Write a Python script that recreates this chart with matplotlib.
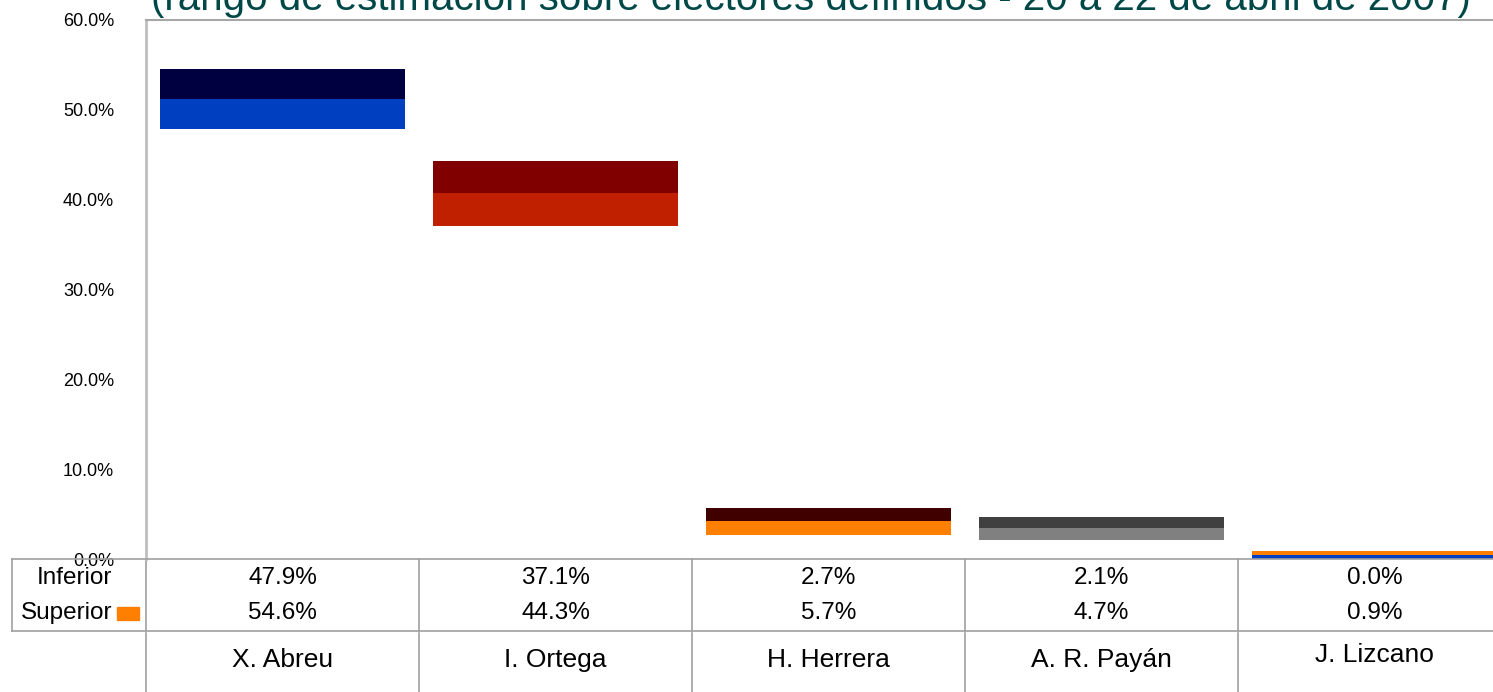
import matplotlib.pyplot as plt
from matplotlib.patches import Rectangle
from matplotlib.transforms import blended_transform_factory

plt.rcParams['font.family'] = ['Liberation Sans', 'DejaVu Sans']

# data
candidatos = ['X. Abreu', 'I. Ortega', 'H. Herrera', 'A. R. Payán', 'J. Lizcano']
inferior = [47.9, 37.1, 2.7, 2.1, 0.0]
superior = [54.6, 44.3, 5.7, 4.7, 0.9]
col_bajo = ['#0040C0', '#C02000', '#FF8000', '#808080', '#0040C0']
col_alto = ['#000040', '#800000', '#400000', '#404040', '#FF8000']
titulo = '(rango de estimación sobre electores definidos - 20 a 22 de abril de 2007)'

W, H = 1493, 692
fig = plt.figure(figsize=(W / 100, H / 100), dpi=100)

def fx(px):
    return px / W

def fy(py):
    return 1 - py / H

# axes run past the right edge, like the cropped original
x0, x1, ytop, ybot = 146, 1511, 20, 559
ax = fig.add_axes([fx(x0), fy(ybot), fx(x1 - x0), (ybot - ytop) / H])

pos = list(range(1, len(candidatos) + 1))
for i, p in enumerate(pos):
    mid = (inferior[i] + superior[i]) / 2
    ax.bar(p, mid - inferior[i], bottom=inferior[i], width=0.9, color=col_bajo[i])
    ax.bar(p, superior[i] - mid, bottom=mid, width=0.9, color=col_alto[i])

ax.set_xlim(0.5, len(candidatos) + 0.5)
ax.set_ylim(0, 60)
ax.set_yticks(range(0, 61, 10))
ax.set_yticklabels([f'{v:.1f}%' for v in range(0, 61, 10)], fontsize=13)
ax.set_xticks([])
ax.tick_params(axis='y', length=0, pad=23)
for s in ['right', 'bottom']:
    ax.spines[s].set_visible(False)
ax.spines['left'].set_color('#BFBFBF')
ax.spines['left'].set_linewidth(2)
ax.spines['top'].set_color('#A6A6A6')
ax.spines['top'].set_linewidth(1.5)

fig.text(fx(811), fy(10), titulo, fontsize=29, color='#004848',
         ha='center', va='baseline')

# data table under the plot
tr = blended_transform_factory(ax.transData, fig.transFigure)
gris = '#A0A0A0'
t_top, t_bot = 559, 631
fig.add_artist(plt.Line2D([fx(12), 1], [fy(t_top), fy(t_top)], color=gris, lw=1.2))
fig.add_artist(plt.Line2D([fx(12), 1], [fy(t_bot), fy(t_bot)], color=gris, lw=1.2))
fig.add_artist(plt.Line2D([fx(12), fx(12)], [fy(t_top), fy(t_bot)], color=gris, lw=1.2))
for b in range(len(candidatos) + 1):
    xb = b + 0.5
    ax.add_artist(plt.Line2D([xb, xb], [fy(t_top), fy(t_bot)], color=gris, lw=1.2,
                             transform=tr, clip_on=False))
    ax.add_artist(plt.Line2D([xb, xb], [fy(t_bot + 2), 0], color=gris, lw=1.2,
                             transform=tr, clip_on=False))

fig.text(fx(112), fy(578), 'Inferior', fontsize=17.5, ha='right', va='center')
fig.text(fx(112), fy(613), 'Superior', fontsize=17.5, ha='right', va='center')
fig.add_artist(Rectangle((fx(117), fy(620)), fx(22), 13 / H, color='#FF8000',
                         transform=fig.transFigure))

for i, p in enumerate(pos):
    ax.text(p, fy(578), f'{inferior[i]:.1f}%', fontsize=17.5, ha='center', va='center',
            transform=tr)
    ax.text(p, fy(613), f'{superior[i]:.1f}%', fontsize=17.5, ha='center', va='center',
            transform=tr)
    yl = 655 if i == len(candidatos) - 1 else 660
    ax.text(p, fy(yl), candidatos[i], fontsize=19, ha='center', va='center',
            transform=tr)

fig.savefig('out.png', dpi=100)
